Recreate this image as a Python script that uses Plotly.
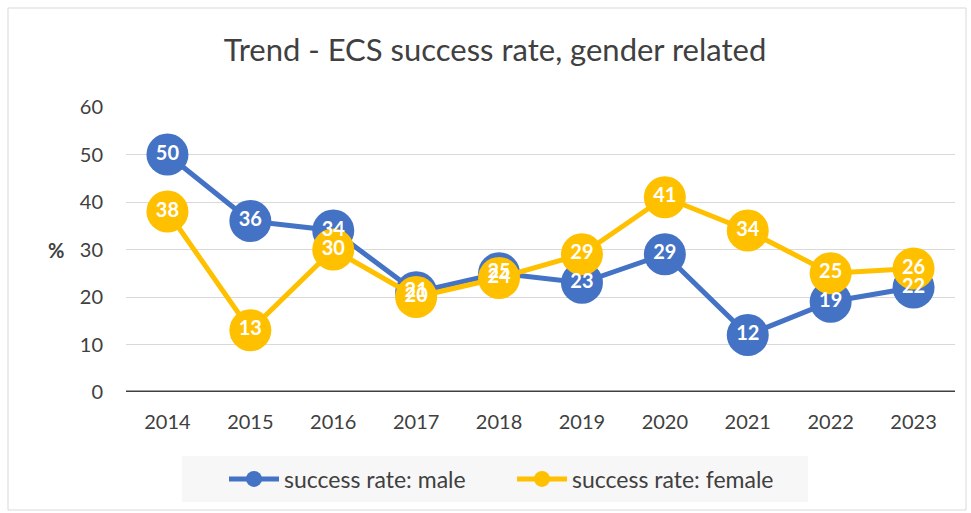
import plotly.graph_objects as go

years = ["2014", "2015", "2016", "2017", "2018", "2019", "2020", "2021", "2022", "2023"]
male = [50, 36, 34, 21, 25, 23, 29, 12, 19, 22]
female = [38, 13, 30, 20, 24, 29, 41, 34, 25, 26]
y_ticks = [0, 10, 20, 30, 40, 50, 60]

BLUE = "#4472C4"
GOLD = "#FFC000"
FONT = "Lato"
GREY = "#404040"

fig = go.Figure()
fig.add_trace(go.Scatter(x=years, y=male, mode="lines+markers", name="success rate: male",
                         line=dict(color=BLUE, width=5), marker=dict(size=42, color=BLUE)))
fig.add_trace(go.Scatter(x=years, y=female, mode="lines+markers", name="success rate: female",
                         line=dict(color=GOLD, width=5), marker=dict(size=42, color=GOLD)))
for vals in (male, female):
    fig.add_trace(go.Scatter(x=years, y=vals, mode="text", text=[str(v) for v in vals],
                             textposition="middle center", showlegend=False, hoverinfo="skip",
                             textfont=dict(family=FONT, size=20, color="white", weight="bold")))

fig.update_layout(
    width=971, height=513,
    margin=dict(l=126, r=16, t=107, b=121, autoexpand=False),
    paper_bgcolor="white", plot_bgcolor="white",
    title=dict(text="Trend - ECS success rate, gender related", xref="container", x=495 / 971,
               xanchor="center", y=1 - 50 / 513, yanchor="middle",
               font=dict(family=FONT, size=31, color=GREY)),
    xaxis=dict(type="category", range=[-0.5, 9.5], showgrid=False, showline=False, ticks="",
               ticklabelstandoff=16, tickfont=dict(family=FONT, size=20, color=GREY)),
    yaxis=dict(range=[0, 60], tickvals=y_ticks, showgrid=True, gridcolor="#D9D9D9", gridwidth=1,
               zeroline=False, showline=False, ticks="", ticklabelstandoff=22,
               tickfont=dict(family=FONT, size=20, color=GREY)),
    legend=dict(orientation="h", xref="container", yref="container",
                x=224 / 971, xanchor="left", y=1 - 479 / 513, yanchor="middle",
                bgcolor="rgba(0,0,0,0)", font=dict(family=FONT, size=23, color=GREY),
                itemwidth=50, entrywidth=223),
    showlegend=True,
)
# zero baseline
fig.add_shape(type="line", xref="paper", yref="y", x0=0, x1=1, y0=0, y1=0,
              line=dict(color=GREY, width=3), layer="above")
# legend background
fig.add_shape(type="rect", xref="paper", yref="paper", x0=(182 - 126) / 829, x1=(808 - 126) / 829,
              y0=(392 - 502) / 285, y1=(392 - 456) / 285,
              fillcolor="#F7F7F7", line=dict(width=0), layer="below")
# outer border
fig.add_shape(type="rect", xref="paper", yref="paper", x0=(8 - 126) / 829, x1=(966 - 126) / 829,
              y0=(392 - 510) / 285, y1=(392 - 8) / 285,
              line=dict(color="#D9D9D9", width=1), layer="below")
fig.add_annotation(text="<b>%</b>", xref="paper", yref="paper", x=(56 - 126) / 829, y=(392 - 250) / 285,
                   xanchor="center", yanchor="middle",
                   showarrow=False, font=dict(family=FONT, size=20, color=GREY))

fig.write_html("out.html", config={"displayModeBar": False},
               post_script="document.body.style.margin='0';")
